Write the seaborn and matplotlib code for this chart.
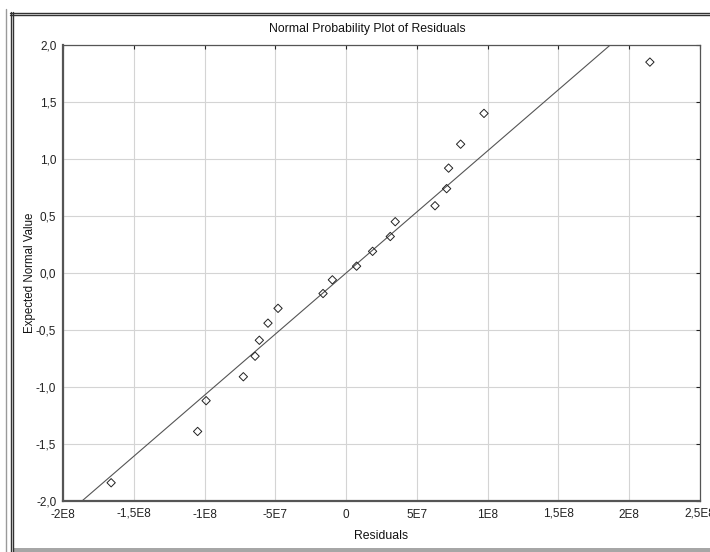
import matplotlib
matplotlib.use("Agg")
import matplotlib.pyplot as plt
import matplotlib.transforms as mtransforms
from matplotlib.lines import Line2D
from matplotlib.patches import Rectangle
import seaborn as sns

# residuals vs expected normal values
residuals = [-1.660e8, -1.049e8, -9.89e7, -7.26e7, -6.43e7, -6.13e7, -5.52e7,
             -4.81e7, -1.63e7, -9.7e6, 7.4e6, 1.87e7, 3.12e7, 3.47e7,
             6.28e7, 7.10e7, 7.24e7, 8.09e7, 9.74e7, 2.146e8]
expected = [-1.84, -1.39, -1.12, -0.91, -0.73, -0.59, -0.44, -0.31, -0.18, -0.06,
            0.06, 0.19, 0.32, 0.45, 0.59, 0.74, 0.92, 1.13, 1.40, 1.85]

# reference line: z = (r - mean) / sd
resid_mean = 0.0
resid_sd = 9.33e7

x_ticks = [-2e8, -1.5e8, -1e8, -5e7, 0, 5e7, 1e8, 1.5e8, 2e8, 2.5e8]
x_ticklabels = ['-2E8', '-1,5E8', '-1E8', '-5E7', '0', '5E7', '1E8', '1,5E8', '2E8', '2,5E8']
y_ticks = [-2.0, -1.5, -1.0, -0.5, 0.0, 0.5, 1.0, 1.5, 2.0]
y_ticklabels = ['-2,0', '-1,5', '-1,0', '-0,5', '0,0', '0,5', '1,0', '1,5', '2,0']

sns.set_style('white')
plt.rcParams['font.family'] = ['Liberation Sans', 'DejaVu Sans']

fig = plt.figure(figsize=(7.1, 5.52), dpi=100)
ax = fig.add_axes([63 / 710, 1 - 501 / 552, 637 / 710, 456 / 552])

ax.grid(True, color='#d4d4d4', linewidth=0.8)
ax.set_axisbelow(True)

ax.axline((resid_mean, 0.0), slope=1 / resid_sd, color='#555555', linewidth=0.8, zorder=2)

sns.scatterplot(x=residuals, y=expected, marker='D', s=18,
                facecolor='none', edgecolor='#222222', linewidth=0.7,
                ax=ax, zorder=3)

ax.set_xlim(-2e8, 2.5e8)
ax.set_ylim(-2.0, 2.0)
ax.set_xticks(x_ticks)
ax.set_xticklabels(x_ticklabels, va='baseline')
ax.set_yticks(y_ticks)
ax.set_yticklabels(y_ticklabels)
ax.tick_params(axis='both', labelsize=8.5, colors='#222222', length=3, width=0.8,
               direction='out')
ax.tick_params(axis='x', pad=9.4)
ax.tick_params(axis='y', pad=1.8)
ax.tick_params(top=True, right=True, labeltop=False, labelright=False)
for t in ax.xaxis.get_major_ticks():
    t.tick2line.set_marker(3)  # inward on top
for t in ax.yaxis.get_major_ticks():
    t.tick2line.set_marker(0)  # inward on right

# labels with a comma get drawn a bit low by agg, nudge them back up
nudge = mtransforms.ScaledTranslation(0, 1.5 / 72, fig.dpi_scale_trans)
for lbl in ax.get_xticklabels():
    if ',' in lbl.get_text():
        lbl.set_transform(lbl.get_transform() + nudge)

for side, lw in [('left', 1.6), ('bottom', 1.6), ('top', 0.9), ('right', 0.9)]:
    ax.spines[side].set_color('#555555')
    ax.spines[side].set_linewidth(lw)
    ax.spines[side].set_visible(True)

ax.set_xlabel('Residuals', fontsize=8.8, color='#111111', labelpad=6)
ax.set_ylabel('Expected Normal Value', fontsize=8.3, color='#111111', labelpad=0)
fig.text(367 / 710, 1 - 29 / 552, 'Normal Probability Plot of Residuals',
         ha='center', va='center', fontsize=8.8, color='#111111')

# window frame of the screenshot
W, H = 710, 552
fig.add_artist(Line2D([5.5 / W, 5.5 / W], [0, 1 - 9 / H], transform=fig.transFigure,
                      color='#9a9a9a', linewidth=1.0))
for px in (10.5, 13.0):
    fig.add_artist(Line2D([px / W, px / W], [0, 1 - 12 / H], transform=fig.transFigure,
                          color='#333333', linewidth=1.0))
for py in (12.5, 15.0):
    fig.add_artist(Line2D([10 / W, 1], [1 - py / H, 1 - py / H], transform=fig.transFigure,
                          color='#333333', linewidth=1.0))
fig.add_artist(Rectangle((13 / W, 0), 1 - 13 / W, 4 / H, transform=fig.transFigure,
                         facecolor='#a6a6a6', edgecolor='none'))

fig.savefig('out.png', dpi=100)
